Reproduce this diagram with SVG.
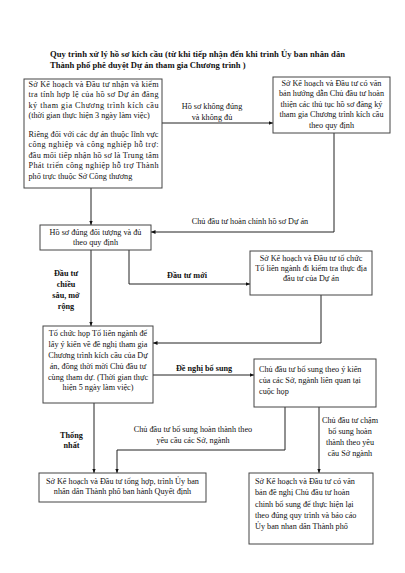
<svg xmlns="http://www.w3.org/2000/svg" width="405" height="573" viewBox="0 0 405 573">
<defs>
<marker id="ah" markerWidth="5" markerHeight="5" refX="4.5" refY="2.5" orient="auto" markerUnits="userSpaceOnUse"><path d="M0,0.6 L4.5,2.5 L0,4.4 z" fill="#111"/></marker>
</defs>
<style>
.box{fill:#fff;stroke:#444;stroke-width:1}
.t{font-family:"Liberation Serif","Times New Roman",serif;font-size:8.2px;fill:#111}
.c{text-anchor:middle}
.b{font-weight:bold}
.ln{fill:none;stroke:#222;stroke-width:1;marker-end:url(#ah)}
</style>
<rect width="405" height="573" fill="#fff"/>
<g id="title">
<text class="t b" style="font-size:8.6px" x="50" y="57" textLength="295" lengthAdjust="spacing">Quy trình xử lý hồ sơ kích cầu (từ khi tiếp nhận đến khi trình Ủy ban nhân dân</text>
<text class="t b" style="font-size:8.6px" x="50" y="67.5">Thành phố phê duyệt Dự án tham gia Chương trình )</text>
</g>
<g id="connectors">
<path class="ln" d="M162,123 H273"/>
<path class="ln" d="M91,188 V225"/>
<path class="ln" d="M334,133 V232 H151"/>
<path class="ln" d="M129,250 V284 H250"/>
<path class="ln" d="M91,250 V326"/>
<path class="ln" d="M321,295 V343 H153"/>
<path class="ln" d="M153,375 H254"/>
<path class="ln" d="M94,403 V473"/>
<path class="ln" d="M285,407 V450 H117 V473"/>
<path class="ln" d="M319,407 V473"/>
</g>
<g id="labels">
<text class="t c" x="212" y="109">Hồ sơ không đúng</text>
<text class="t c" x="212" y="120">và không đủ</text>
<text class="t c" x="250" y="224">Chủ đầu tư hoàn chỉnh hồ sơ Dự án</text>
<text class="t c b" x="187" y="277.5">Đầu tư mới</text>
<text class="t c b" x="66" y="275.5">Đầu tư</text>
<text class="t c b" x="66" y="287">chiều</text>
<text class="t c b" x="66" y="298">sâu, mở</text>
<text class="t c b" x="66" y="309">rộng</text>
<text class="t c b" x="204" y="371">Đề nghị bổ sung</text>
<text class="t c b" x="71.5" y="437.5">Thống</text>
<text class="t c b" x="71.5" y="448">nhất</text>
<text class="t c" x="193" y="432">Chủ đầu tư bổ sung hoàn thành theo</text>
<text class="t c" x="193" y="442.5">yêu cầu các Sở, ngành</text>
<text class="t c" x="350" y="422.5">Chủ đầu tư chậm</text>
<text class="t c" x="350" y="433.5">bổ sung hoàn</text>
<text class="t c" x="350" y="445">thành theo yêu</text>
<text class="t c" x="350" y="456">cầu Sở ngành</text>
</g>
<g id="n1">
<rect class="box" x="24" y="79" width="138" height="109"/>
<text class="t" x="28.5" y="86.5" textLength="130" lengthAdjust="spacing">Sở Kế hoạch và Đầu tư nhận và kiểm</text>
<text class="t" x="28.5" y="97" textLength="130" lengthAdjust="spacing">tra tính hợp lệ của hồ sơ Dự án đăng</text>
<text class="t" x="28.5" y="107.5" textLength="130" lengthAdjust="spacing">ký tham gia Chương trình kích cầu</text>
<text class="t" x="28.5" y="118">(thời gian thực hiện 3 ngày làm việc)</text>
<text class="t" x="28.5" y="136.5" textLength="130" lengthAdjust="spacing">Riêng đối với các dự án thuộc lĩnh vực</text>
<text class="t" x="28.5" y="147" textLength="130" lengthAdjust="spacing">công nghiệp và công nghiệp hỗ trợ:</text>
<text class="t" x="28.5" y="157.5" textLength="130" lengthAdjust="spacing">đầu mối tiếp nhận hồ sơ là Trung tâm</text>
<text class="t" x="28.5" y="168" textLength="130" lengthAdjust="spacing">Phát triển công nghiệp hỗ trợ Thành</text>
<text class="t" x="28.5" y="178.5">phố trực thuộc Sở Công thương</text>
</g>
<g id="n2">
<rect class="box" x="273" y="77" width="117" height="56"/>
<text class="t c" x="331.5" y="85.5">Sở Kế hoạch và Đầu tư có văn</text>
<text class="t c" x="331.5" y="96">bản hướng dẫn Chủ đầu tư hoàn</text>
<text class="t c" x="331.5" y="106.5">thiện các thủ tục hồ sơ đăng ký</text>
<text class="t c" x="331.5" y="117">tham gia Chương trình kích cầu</text>
<text class="t c" x="331.5" y="127.5">theo quy định</text>
</g>
<g id="n3">
<rect class="box" x="40" y="225" width="111" height="25"/>
<text class="t c" x="95.5" y="234.5">Hồ sơ đúng đối tượng và đủ</text>
<text class="t c" x="95.5" y="245">theo quy định</text>
</g>
<g id="n4">
<rect class="box" x="250" y="251" width="122" height="44"/>
<text class="t c" x="311" y="261">Sở Kế hoạch và Đầu tư tổ chức</text>
<text class="t c" x="311" y="271">Tổ liên ngành đi kiểm tra thực địa</text>
<text class="t c" x="311" y="281">đầu tư của Dự án</text>
</g>
<g id="n5">
<rect class="box" x="43" y="326" width="110" height="77"/>
<text class="t c" x="98" y="336">Tổ chức họp Tổ liên ngành để</text>
<text class="t c" x="98" y="347">lấy ý kiến về đề nghị tham gia</text>
<text class="t c" x="98" y="357.5">Chương trình kích cầu của Dự</text>
<text class="t c" x="98" y="368.5">án, đồng thời mời Chủ đầu tư</text>
<text class="t c" x="98" y="379.5">cùng tham dự. (Thời gian thực</text>
<text class="t c" x="98" y="390">hiện 5 ngày làm việc)</text>
</g>
<g id="n6">
<rect class="box" x="254" y="359" width="122" height="48"/>
<text class="t" x="259" y="372">Chủ đầu tư bổ sung theo ý kiến</text>
<text class="t" x="259" y="383">của các Sở, ngành liên quan tại</text>
<text class="t" x="259" y="394">cuộc họp</text>
</g>
<g id="n7">
<rect class="box" x="39" y="473" width="167" height="29"/>
<text class="t c" x="122.5" y="484">Sở Kế hoạch và Đầu tư tổng hợp, trình Ủy ban</text>
<text class="t c" x="122.5" y="494">nhân dân Thành phố ban hành Quyết định</text>
</g>
<g id="n8">
<rect class="box" x="249" y="473" width="124" height="71"/>
<text class="t" x="255" y="484">Sở Kế hoạch và Đầu tư có văn</text>
<text class="t" x="255" y="495">bản đề nghị Chủ đầu tư hoàn</text>
<text class="t" x="255" y="506.5">chinh bổ sung để thực hiện lại</text>
<text class="t" x="255" y="518">theo đúng quy trình và báo cáo</text>
<text class="t" x="255" y="529">Ủy ban nhan dân Thành phố</text>
</g>
</svg>
